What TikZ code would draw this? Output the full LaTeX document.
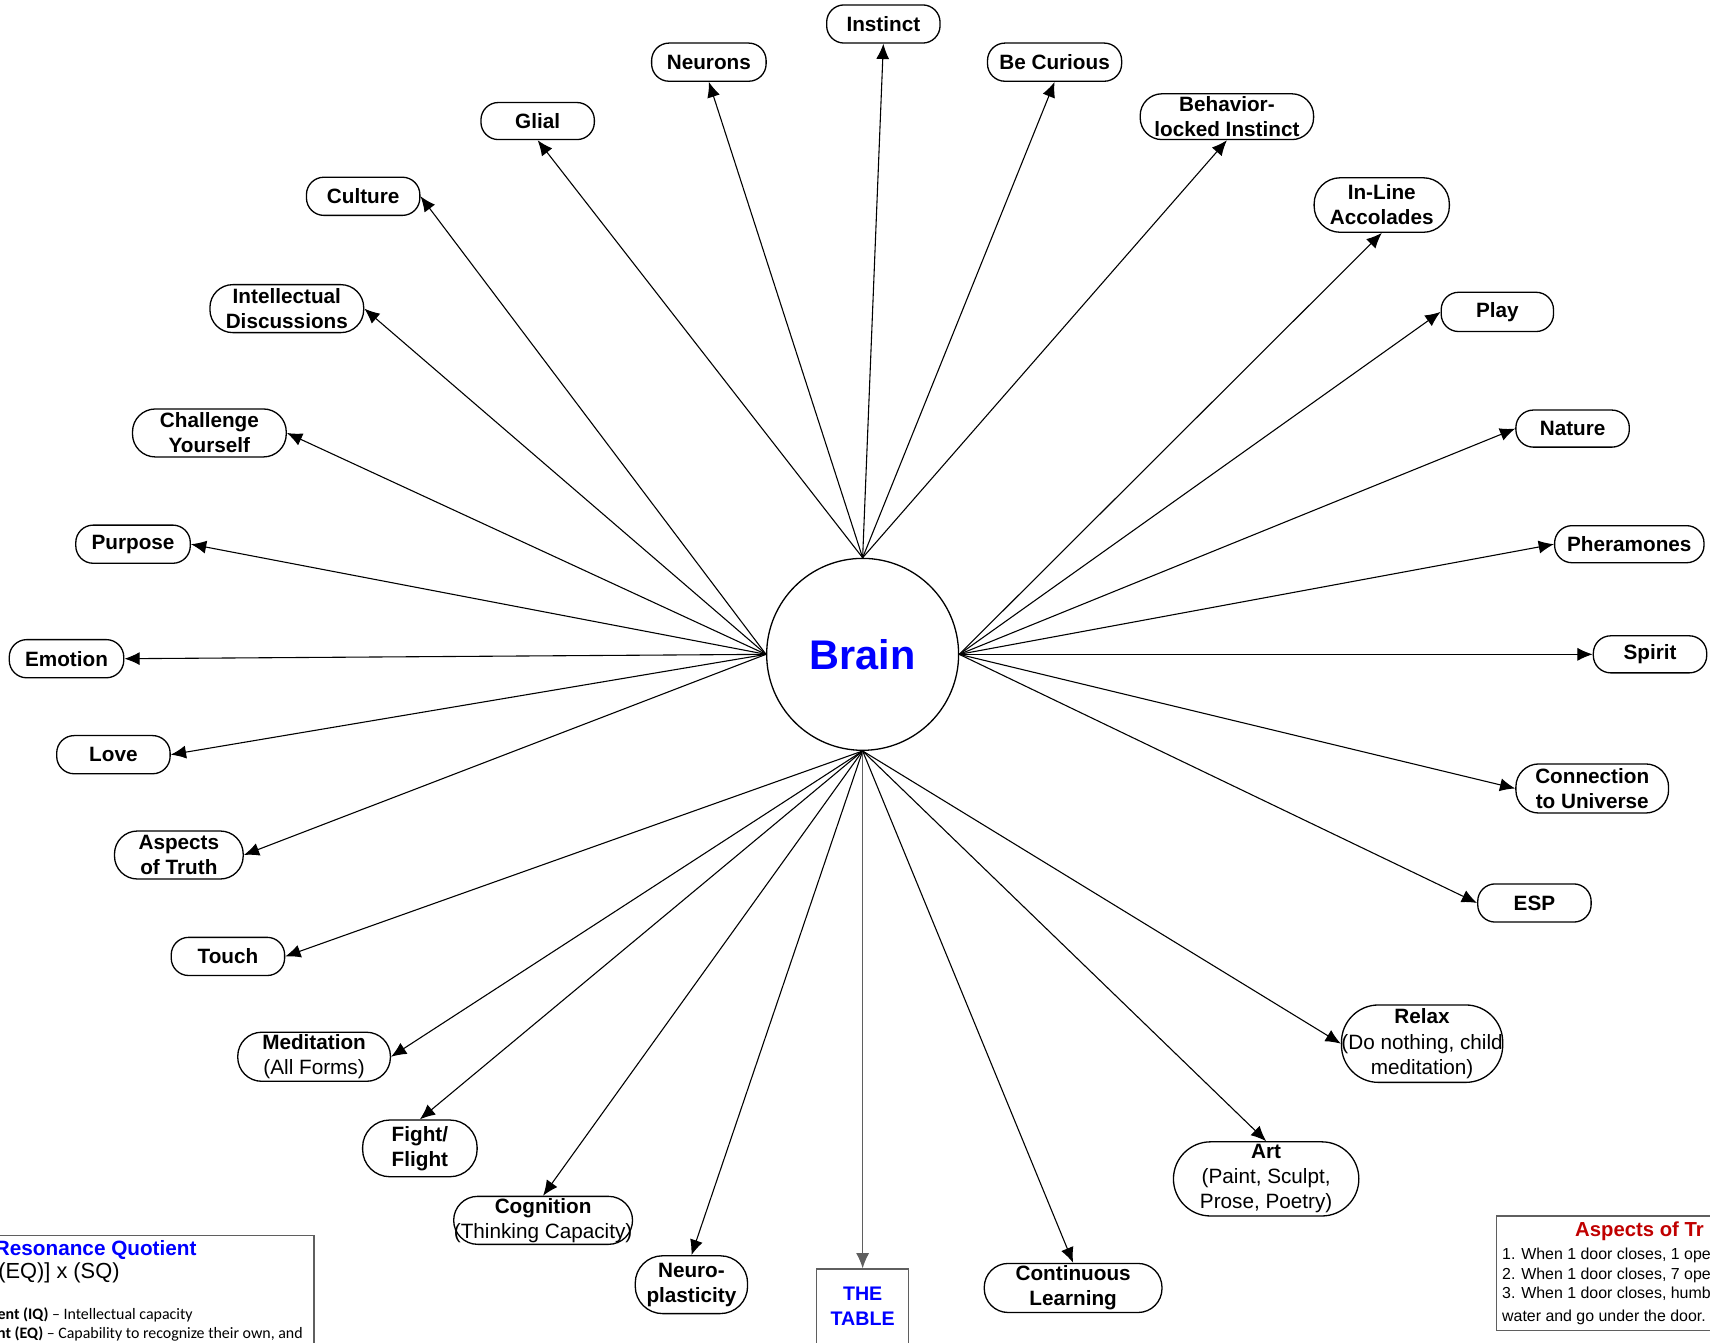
\documentclass[tikz,border=0pt]{standalone}
\usepackage{fontspec}
\setmainfont{Liberation Sans}
\newfontfamily\calfont{Carlito}
\usetikzlibrary{arrows.meta}
\definecolor{truthred}{RGB}{192,0,0}
\definecolor{edgegray}{RGB}{95,95,95}
\begin{document}
\begin{tikzpicture}[x=0.5pt,y=-0.5pt]
\tikzset{
  nd/.style={draw, line width=0.6pt, rounded corners=#1, align=center, inner sep=0pt,
    font=\fontsize{9.5}{11.5}\selectfont\bfseries},
  nd/.default=8pt,
  sz/.style 2 args={minimum width={#1*0.5pt}, minimum height={#2*0.5pt}},
  con/.style={line width=0.5pt, -{Latex[length=7pt,width=6pt]}},
  boxline/.style={draw=edgegray, line width=0.6pt},
  plain/.style={inner sep=0pt, anchor=base west},
}
\useasboundingbox (0,0) rectangle (1568,1231);
\clip (0,0) rectangle (1568,1231);

% centre
\node[circle, draw, line width=0.6pt, minimum size=88pt, inner sep=0pt, text=blue,
  font=\fontsize{19}{22}\selectfont\bfseries] (brain) at (791,600) {Brain};

% outer nodes
\node[nd, sz={104}{35}] (instinct) at (810,22) {Instinct};
\node[nd, sz={105}{35}] (neurons) at (650,57) {Neurons};
\node[nd, sz={123}{35}] (curious) at (967,57) {Be Curious};
\node[nd, sz={104}{34}] (glial) at (493,111) {Glial};
\node[nd=10pt, sz={159}{42}] (behavior) at (1125,107) {Behavior-\\locked Instinct};
\node[nd, sz={104}{35}] (culture) at (333,180) {Culture};
\node[nd=12pt, sz={124}{50}] (inline) at (1267,188) {In-Line\\Accolades};
\node[nd=10.5pt, sz={141}{44}] (intel) at (263,283) {Intellectual\\Discussions};
\node[nd, sz={103}{36}] (play) at (1373,286) {Play};
\node[nd=10.5pt, sz={141}{44}] (challenge) at (192,397) {Challenge\\Yourself};
\node[nd, sz={104}{34}] (nature) at (1442,393) {Nature};
\node[nd, sz={105}{35}] (purpose) at (122,499) {Purpose};
\node[nd, sz={137}{34}] (pheramones) at (1494,499) {Pheramones};
\node[nd, sz={105}{35}] (emotion) at (61,604) {Emotion};
\node[nd, sz={104}{34}] (spirit) at (1513,600) {Spirit};
\node[nd, sz={104}{35}] (love) at (104,692) {Love};
\node[nd=10.5pt, sz={140}{45}] (connection) at (1460,723) {Connection\\to Universe};
\node[nd=10.5pt, sz={118}{44}] (aspects) at (164,784) {Aspects\\of Truth};
\node[nd, sz={104}{35}] (esp) at (1407,828) {ESP};
\node[nd, sz={104}{35}] (touch) at (209,877) {Touch};
\node[nd=17pt, sz={146}{71}] (relax) at (1304,957) {Relax\\\mdseries(Do nothing, child\\\mdseries meditation)};
\node[nd=11pt, sz={140}{45}] (meditation) at (288,969) {Meditation\\\mdseries(All Forms)};
\node[nd=12.5pt, sz={105}{52}] (fight) at (385,1053) {Fight/\\Flight};
\node[nd=17pt, sz={170}{68}] (art) at (1161,1081) {Art\\\mdseries(Paint, Sculpt,\\\mdseries Prose, Poetry)};
\node[nd=11pt, sz={164}{44}] (cognition) at (498,1119) {Cognition\\\mdseries(Thinking Capacity)};
\node[nd=12.5pt, sz={103}{53}] (neuro) at (634,1178) {Neuro-\\plasticity};
\node[nd=11pt, sz={163}{45}] (continuous) at (984,1181) {Continuous\\Learning};
\node[draw=edgegray, line width=0.6pt, anchor=north, minimum width=42pt, minimum height=50pt, inner sep=0pt] (table) at (791,1163) {};
\node[align=center, inner sep=0pt, text=blue, font=\fontsize{9}{11.5}\selectfont\bfseries] (tabletext) at (791,1198) {THE\\TABLE};

% connectors
\draw[con] (brain.north) -- (glial.south);
\draw[con] (brain.north) -- (neurons.south);
\draw[con] (brain.north) -- (instinct.south);
\draw[con] (brain.north) -- (curious.south);
\draw[con] (brain.north) -- (behavior.south);

\draw[con] (brain.west) -- (culture.east);
\draw[con] (brain.west) -- (intel.east);
\draw[con] (brain.west) -- (challenge.east);
\draw[con] (brain.west) -- (purpose.east);
\draw[con] (brain.west) -- (emotion.east);
\draw[con] (brain.west) -- (love.east);
\draw[con] (brain.west) -- (aspects.east);

\draw[con] (brain.east) -- (inline.south);
\draw[con] (brain.east) -- (play.west);
\draw[con] (brain.east) -- (nature.west);
\draw[con] (brain.east) -- (pheramones.west);
\draw[con] (brain.east) -- (spirit.west);
\draw[con] (brain.east) -- (connection.west);
\draw[con] (brain.east) -- (esp.west);

\draw[con] (brain.south) -- (touch.east);
\draw[con] (brain.south) -- (meditation.east);
\draw[con] (brain.south) -- (fight.north);
\draw[con] (brain.south) -- (cognition.north);
\draw[con] (brain.south) -- (neuro.north);
\draw[con, draw=edgegray] (brain.south) -- (table.north);
\draw[con] (brain.south) -- (continuous.north);
\draw[con] (brain.south) -- (art.north);
\draw[con] (brain.south) -- (relax.west);

% bottom-left box (cut off by the page edge in the original)
\draw[boxline] (-10,1133) rectangle (288,1262);
\node[plain, text=blue, font=\fontsize{9.5}{11}\selectfont\bfseries] (rq) at (-5,1151) {Resonance Quotient};
\node[inner sep=0pt, anchor=base east, font=\fontsize{10}{12}\selectfont] (formula) at (110,1172) {(EQ)] x (SQ)};
\node[inner sep=0pt, anchor=base east, font=\calfont\fontsize{7.3}{9}\selectfont] (iq) at (177,1210) {\textbf{ent (IQ)} – Intellectual capacity};
\node[inner sep=0pt, anchor=base east, font=\calfont\fontsize{7.3}{9}\selectfont] (eq) at (278,1227) {\textbf{nt (EQ)} – Capability to recognize their own, and};

% bottom-right box (cut off by the page edge in the original)
\draw[boxline] (1372,1115) rectangle (1590,1220);
\node[plain, text=truthred, font=\fontsize{9.3}{11}\selectfont\bfseries] (aot) at (1444,1134) {Aspects of Tr};
\node[plain, font=\fontsize{7.3}{9}\selectfont] (t1) at (1377,1155) {1. When 1 door closes, 1 ope};
\node[plain, font=\fontsize{7.3}{9}\selectfont] (t2) at (1377,1173) {2. When 1 door closes, 7 ope};
\node[plain, font=\fontsize{7.3}{9}\selectfont] (t3) at (1377,1191) {3. When 1 door closes, humb};
\node[plain, font=\fontsize{7.3}{9}\selectfont] (t4) at (1377,1212) {water and go under the door.};
\end{tikzpicture}
\end{document}
